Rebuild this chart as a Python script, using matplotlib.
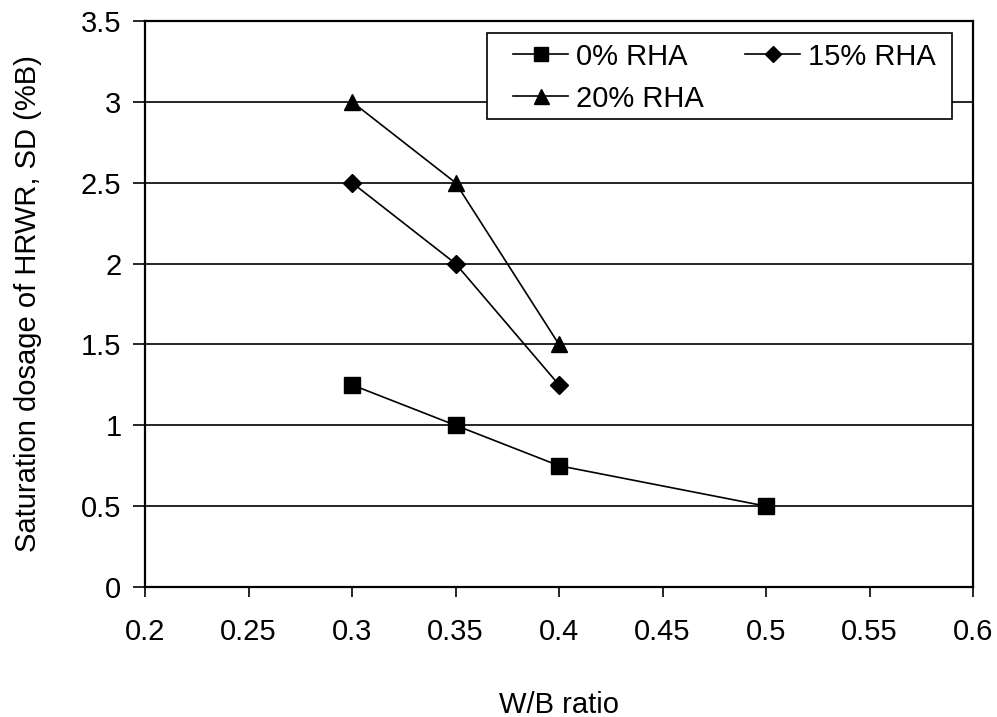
import matplotlib
matplotlib.use("Agg")
import matplotlib.pyplot as plt
from matplotlib.patches import Rectangle

plt.rcParams['font.family'] = ['Liberation Sans', 'DejaVu Sans']

x0 = [0.3, 0.35, 0.4, 0.5]
y0 = [1.25, 1.0, 0.75, 0.5]
x15 = [0.3, 0.35, 0.4]
y15 = [2.5, 2.0, 1.25]
x20 = [0.3, 0.35, 0.4]
y20 = [3.0, 2.5, 1.5]
labels = ['0% RHA', '15% RHA', '20% RHA']
xticks = [0.2, 0.25, 0.3, 0.35, 0.4, 0.45, 0.5, 0.55, 0.6]
yticks = [0, 0.5, 1, 1.5, 2, 2.5, 3, 3.5]

fig = plt.figure(figsize=(9.97, 7.17), dpi=100)
ax = fig.add_axes([0.14544, 0.18131, 0.8305, 0.7894])

for y in yticks[1:-1]:
    ax.axhline(y, color='black', lw=1.2, zorder=1)

h0, = ax.plot(x0, y0, '-s', color='black', lw=1.2, ms=11.5, label=labels[0], zorder=3)
h15, = ax.plot(x15, y15, '-D', color='black', lw=1.2, ms=9.5, label=labels[1], zorder=3)
h20, = ax.plot(x20, y20, '-^', color='black', lw=1.2, ms=12, label=labels[2], zorder=3)

ax.set_xlim(0.2, 0.6)
ax.set_ylim(0, 3.5)
ax.set_xticks(xticks)
ax.set_xticklabels([f'{v:g}' for v in xticks])
ax.set_yticks(yticks)
ax.set_yticklabels([f'{v:g}' for v in yticks])
ax.tick_params(axis='x', labelsize=21, direction='out', length=7.5, width=1.2, color='black', pad=15)
ax.tick_params(axis='y', labelsize=21, direction='out', length=9, width=1.2, color='black', pad=8)
for s in ax.spines.values():
    s.set_linewidth(1.6)
    s.set_color('black')

ax.set_xlabel('W/B ratio', fontsize=21, labelpad=32)
ax.set_ylabel('Saturation dosage of HRWR, SD (%B)', fontsize=21, labelpad=28)

# legend frame
frame = Rectangle((0.413, 0.8269), 0.9746 - 0.413, 0.9788 - 0.8269,
                  transform=ax.transAxes, facecolor='white', edgecolor='black',
                  lw=1.2, zorder=5)
ax.add_patch(frame)

leg = ax.legend([h0, h20, h15], [labels[0], labels[2], labels[1]],
                loc='upper left', bbox_to_anchor=(0.4444, 0.962), borderaxespad=0,
                ncol=2, fontsize=21, frameon=False, handlelength=1.9,
                columnspacing=1.42, handletextpad=0.25, borderpad=0,
                labelspacing=0.48)
leg.set_zorder(6)
for h in leg.legend_handles:
    h.set_markersize(h.get_markersize() * 0.9)

fig.savefig('out.png', dpi=100)
